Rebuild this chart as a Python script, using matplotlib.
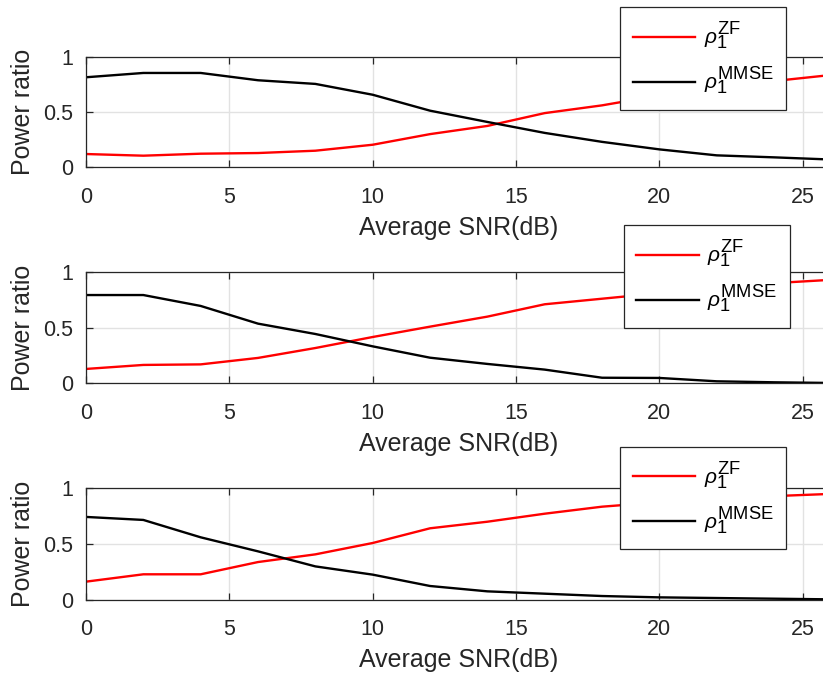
import matplotlib
matplotlib.use("Agg")
import matplotlib.pyplot as plt
import matplotlib._mathtext as _mt

# MATLAB-style larger sub/superscripts in the legend labels
_mt.SHRINK_FACTOR = 0.88

plt.rcParams['font.family'] = ['Liberation Sans', 'DejaVu Sans']
plt.rcParams['mathtext.fontset'] = 'custom'
plt.rcParams['mathtext.rm'] = 'Liberation Sans'
plt.rcParams['mathtext.it'] = 'Liberation Sans:italic'
plt.rcParams['mathtext.bf'] = 'Liberation Sans:bold'

snr_db = [0, 2, 4, 6, 8, 10, 12, 14, 16, 18, 20, 22, 24, 26]

zf_1 = [0.12, 0.105, 0.123, 0.129, 0.15, 0.204, 0.30, 0.374, 0.49, 0.56, 0.65, 0.72, 0.78, 0.835]
mmse_1 = [0.814, 0.853, 0.853, 0.787, 0.754, 0.656, 0.512, 0.41, 0.311, 0.23, 0.162, 0.108, 0.09, 0.07]

zf_2 = [0.129, 0.165, 0.17, 0.228, 0.317, 0.416, 0.509, 0.599, 0.71, 0.76, 0.81, 0.86, 0.90, 0.93]
mmse_2 = [0.793, 0.793, 0.695, 0.536, 0.443, 0.332, 0.23, 0.174, 0.123, 0.05, 0.048, 0.018, 0.009, 0.003]

zf_3 = [0.162, 0.228, 0.228, 0.338, 0.407, 0.509, 0.641, 0.70, 0.772, 0.835, 0.875, 0.90, 0.93, 0.95]
mmse_3 = [0.743, 0.716, 0.56, 0.434, 0.299, 0.225, 0.123, 0.075, 0.054, 0.033, 0.021, 0.015, 0.009, 0.003]

series = [(zf_1, mmse_1), (zf_2, mmse_2), (zf_3, mmse_3)]

x_ticks = [0, 5, 10, 15, 20, 25]
y_ticks = [0, 0.5, 1]
y_tick_labels = ['0', '0.5', '1']
xlabel = 'Average SNR(dB)'
ylabel = 'Power ratio'
label_zf = r'$\rho_1^{\mathrm{ZF}}$'
label_mmse = r'$\rho_1^{\mathrm{MMSE}}$'

W, H = 823, 677
fig = plt.figure(figsize=(W / 100, H / 100), dpi=100)

ax_left = 86 / W
ax_width = 745.4 / W
tops = [56.7, 272.0, 488.3]
bottoms = [167.3, 383.3, 599.7]
leg_anchor = [(0.939, 1.447), (0.944, 1.423), (0.939, 1.373)]

edge = '#262626'
for i, (zf, mm) in enumerate(series):
    b = 1 - bottoms[i] / H
    h = (bottoms[i] - tops[i]) / H
    ax = fig.add_axes([ax_left, b, ax_width, h])
    ax.plot(snr_db, zf, color=(1, 0, 0), lw=1.7, label=label_zf)
    ax.plot(snr_db, mm, color='k', lw=1.7, label=label_mmse)
    ax.set_xlim(0, 26)
    ax.set_ylim(0, 1)
    ax.set_xticks(x_ticks)
    ax.set_yticks(y_ticks)
    ax.set_yticklabels(y_tick_labels)
    ax.grid(True, color='#e2e2e2', lw=1.0)
    ax.set_axisbelow(True)
    for s in ax.spines.values():
        s.set_color(edge)
        s.set_linewidth(0.9)
    ax.tick_params(axis='both', direction='in', top=True, right=True,
                   length=5, width=0.9, color=edge, labelsize=15.5,
                   labelcolor='#262626')
    ax.tick_params(axis='x', pad=14)
    ax.tick_params(axis='y', pad=9)
    ax.set_xlabel(xlabel, fontsize=18, color='#262626', labelpad=6)
    ax.set_ylabel(ylabel, fontsize=18, color='#262626', labelpad=6)
    leg = ax.legend(loc='upper right', bbox_to_anchor=leg_anchor[i],
                    borderaxespad=0, fontsize=15, fancybox=False,
                    framealpha=1, edgecolor=edge, handlelength=3.0,
                    labelspacing=0.6, borderpad=0.6, handletextpad=0.4)
    leg.get_frame().set_linewidth(0.9)

fig.savefig('out.png', dpi=100)
